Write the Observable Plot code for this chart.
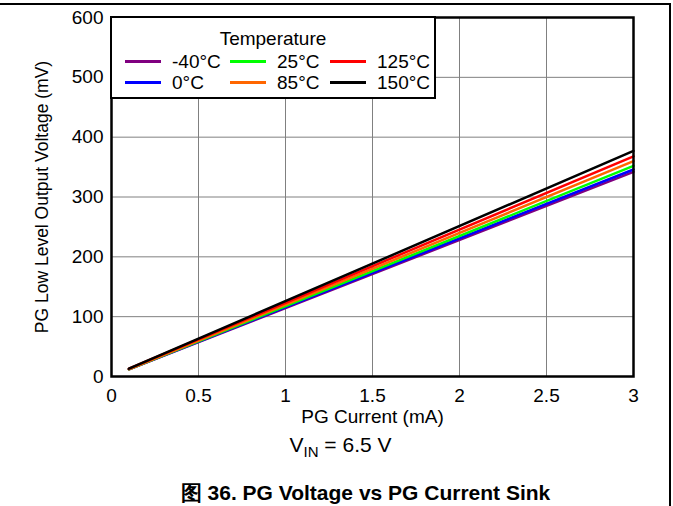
<!DOCTYPE html>
<html>
<head>
<meta charset="utf-8">
<script src="https://cdn.jsdelivr.net/npm/d3@7"></script>
<script src="https://cdn.jsdelivr.net/npm/@observablehq/plot@0.6"></script>
<style>
  html, body { margin: 0; padding: 0; background: #fff; }
  body { width: 673px; height: 506px; position: relative; overflow: hidden; font-family: "Liberation Sans", Arial, sans-serif; }
  #topline { position: absolute; left: 0; top: 3px; width: 671px; height: 0; border-top: 2px solid #000; }
  #rightline { position: absolute; left: 669px; top: 3px; width: 0; height: 503px; border-left: 2px solid #000; }
  #chart { position: absolute; left: 0; top: 0; }
  #legend { position: absolute; left: 110px; top: 16px; width: 322px; height: 79px; border: 2px solid #000; background: #fff; font-size: 19px; color: #000; }
  #legend .title { position: absolute; left: 0; width: 100%; top: 11px; text-align: center; line-height: 1; }
  .entry { position: absolute; display: flex; align-items: center; line-height: 1; }
  .entry .sw { width: 36px; height: 0; border-top: 3px solid; margin-right: 11px; }
  #vin { position: absolute; left: 0; width: 673px; top: 434px; text-align: center; font-size: 21px; line-height: 1; padding-left: 8px; box-sizing: border-box; }
  #vin sub { font-size: 15px; vertical-align: -5px; }
  #caption { position: absolute; left: 0; width: 673px; top: 482px; text-align: center; font-size: 21px; line-height: 1; font-weight: bold; padding-left: 58px; box-sizing: border-box; }
</style>
</head>
<body>
<div id="topline"></div>
<div id="rightline"></div>
<div id="chart"></div>
<div id="legend"><div class="title">Temperature</div></div>
<div id="vin">V<sub>IN</sub> = 6.5 V</div>
<div id="caption">图 36. PG Voltage vs PG Current Sink</div>
<script>
// Series definitions
const temps = ["-40°C", "0°C", "25°C", "85°C", "125°C", "150°C"];
const colors = ["#800080", "#0000ff", "#00ff00", "#ff6600", "#ff0000", "#000000"];
const currents = [0.1, 3];           // mA
const vMinus40 = [12, 342];
const v0 = [12, 346];
const v25 = [12, 352];
const v85 = [12, 360];
const v125 = [13, 368];
const v150 = [13, 377];
const xTicks = [0, 0.5, 1, 1.5, 2, 2.5, 3];
const yTicks = [0, 100, 200, 300, 400, 500, 600];

const seriesValues = [vMinus40, v0, v25, v85, v125, v150];
const data = [];
temps.forEach((t, i) => currents.forEach((c, j) => data.push({temp: t, current: c, v: seriesValues[i][j]})));

const plot = Plot.plot({
  width: 673,
  height: 430,
  marginLeft: 111,
  marginRight: 40,
  marginTop: 17,
  marginBottom: 54,
  style: {fontFamily: "Liberation Sans, Arial, sans-serif", fontSize: "19px", color: "#000", background: "transparent"},
  x: {domain: [0, 3], ticks: xTicks, tickFormat: d => String(d), tickSize: 0, tickPadding: 12, label: "PG Current (mA)", labelAnchor: "center", labelArrow: "none", labelOffset: 46},
  y: {domain: [0, 600], ticks: yTicks, tickSize: 0, tickPadding: 8, label: "PG Low Level Output Voltage (mV)", labelAnchor: "center", labelArrow: "none", labelOffset: 76},
  color: {domain: temps, range: colors},
  marks: [
    Plot.gridX(xTicks, {stroke: "#808080", strokeOpacity: 1, strokeWidth: 1}),
    Plot.gridY(yTicks, {stroke: "#808080", strokeOpacity: 1, strokeWidth: 1}),
    Plot.line(data, {x: "current", y: "v", z: "temp", stroke: "temp", strokeWidth: 2.5}),
    Plot.frame({stroke: "#000", strokeWidth: 2.5})
  ]
});
const yLabel = plot.querySelector('g[aria-label="y-axis label"]');
if (yLabel) yLabel.setAttribute("font-size", "17.5");
if (yLabel) yLabel.style.fontSize = "17.5px";
document.getElementById("chart").appendChild(plot);

// Legend (HTML overlay)
const legend = document.getElementById("legend");
const colX = [13, 118, 218];
const rowY = [34, 55];
temps.forEach((t, i) => {
  const col = Math.floor(i / 2), row = i % 2;
  const e = document.createElement("div");
  e.className = "entry";
  e.style.left = colX[col] + "px";
  e.style.top = rowY[row] + "px";
  const sw = document.createElement("div");
  sw.className = "sw";
  sw.style.borderColor = colors[i];
  const lbl = document.createElement("span");
  lbl.textContent = t;
  e.appendChild(sw); e.appendChild(lbl);
  legend.appendChild(e);
});
</script>
</body>
</html>
